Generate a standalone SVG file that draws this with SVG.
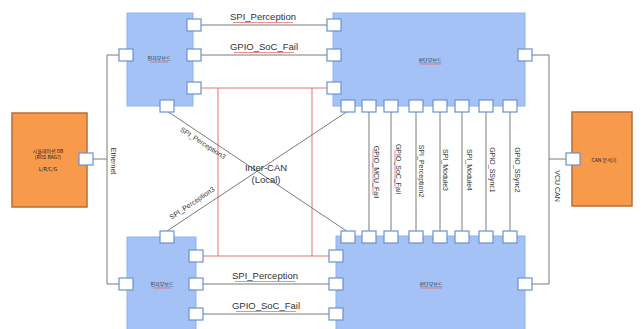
<svg xmlns="http://www.w3.org/2000/svg" width="641" height="329" viewBox="0 0 641 329">
<style>
.board{fill:#a4c2f6;stroke:#8fb2ec;stroke-width:1}
.ext{fill:#f79a4c;stroke:#b86d33;stroke-width:1.5}
.port{fill:#ffffff;stroke:#6a92cf;stroke-width:1.2}
.wire{fill:none;stroke:#7a7a7a;stroke-width:1}
.red{fill:none;stroke:#e57373;stroke-width:1}
.sq{fill:none;stroke:#e06060;stroke-width:0.7}
text{font-family:"Liberation Sans","Noto Sans CJK KR",sans-serif;fill:#333333}
.kr{font-family:"Noto Sans CJK KR","Noto Sans",sans-serif;font-size:5px;fill:#222}
.lbl{font-size:9.5px;text-anchor:middle}
.vl{font-size:7px;text-anchor:middle}
</style>
<rect width="641" height="329" fill="#ffffff"/>

<g id="connectors">
  <!-- Ethernet bus -->
  <path class="wire" d="M93 159 H107 M107 55 V284 M107 55 H119 M107 284 H119"/>
  <!-- VCU CAN bus -->
  <path class="wire" d="M532 55 H549 V284 H532 M549 159 H566"/>
  <!-- top links -->
  <path class="wire" d="M200 25 H327 M200 55 H327"/>
  <!-- bottom links -->
  <path class="wire" d="M203 284 H329 M203 314 H329"/>
  <!-- inter-CAN red -->
  <path class="red" d="M200 88 H327 M218 88 V256 M312 88 V256 M203 256 H329"/>
  <!-- diagonals -->
  <path class="wire" d="M167 111 L348 232 M167 231 L348 111"/>
  <!-- vertical links -->
  <path class="wire" d="M369 111 V232 M391 111 V232 M416 111 V232 M440 111 V232 M462 111 V232 M486 111 V232 M510 111 V232"/>

  <text class="lbl" x="263" y="20">SPI_Perception</text>
  <path class="sq" d="M233 22.5 H293"/>
  <text class="lbl" x="264" y="50">GPIO_SoC_Fail</text>
  <path class="sq" d="M234 52.5 H294"/>
  <text class="lbl" x="265" y="279">SPI_Perception</text>
  <path class="sq" d="M235 281.5 H295"/>
  <text class="lbl" x="266" y="309">GPIO_SoC_Fail</text>
  <path class="sq" d="M236 311.5 H296"/>

  <text class="lbl" x="266" y="171">Inter-CAN</text>
  <text class="lbl" x="266" y="183">(Local)</text>

  <g transform="translate(203,143) rotate(33)"><text class="vl" x="0" y="2.5">SPI_Perception3</text></g>
  <g transform="translate(192,203) rotate(-34)"><text class="vl" x="0" y="2.5">SPI_Perception3</text></g>

  <text class="vl" transform="translate(111,161) rotate(90)">Ethernet</text>
  <text class="vl" transform="translate(555,186) rotate(90)">VCU CAN</text>

  <text class="vl" transform="translate(374,172) rotate(90)">GPIO_MCU_Fail</text>
  <path class="sq" d="M373 149 V195"/>
  <text class="vl" transform="translate(396,169) rotate(90)">GPIO_SoC_Fail</text>
  <path class="sq" d="M395 150 V188"/>
  <text class="vl" transform="translate(419,171) rotate(90)">SPI_Perception2</text>
  <text class="vl" transform="translate(443,170) rotate(90)">SPI_Module3</text>
  <text class="vl" transform="translate(467,170) rotate(90)">SPI_Module4</text>
  <text class="vl" transform="translate(490,170) rotate(90)">GPIO_SSync1</text>
  <text class="vl" transform="translate(515,170) rotate(90)">GPIO_SSync2</text>
</g>

<g id="sim-db">
  <rect class="ext" x="12" y="113" width="75" height="94"/>
  <text class="kr" x="48" y="153" text-anchor="middle">시뮬레이션 DB</text>
  <text class="kr" x="48" y="159" text-anchor="middle">(ROS BAG?)</text>
  <text class="kr" x="48" y="171" text-anchor="middle">L/R/C/G</text>
  <rect class="port" x="79" y="153" width="14" height="12"/>
</g>

<g id="can-analyzer">
  <rect class="ext" x="572" y="112" width="60" height="94"/>
  <text class="kr" x="604" y="162" text-anchor="middle">CAN 분석기</text>
  <rect class="port" x="566" y="153" width="14" height="12"/>
</g>

<g id="perception-top">
  <rect class="board" x="127" y="13" width="66" height="93"/>
  <text class="kr" x="159" y="60" text-anchor="middle">인지부보드</text>
  <path class="sq" d="M150 62 H168"/>
  <rect class="port" x="119" y="49" width="14" height="12"/>
  <rect class="port" x="187" y="19" width="14" height="12"/>
  <rect class="port" x="187" y="49" width="14" height="12"/>
  <rect class="port" x="187" y="82" width="14" height="12"/>
  <rect class="port" x="160" y="100" width="14" height="12"/>
</g>

<g id="decision-top">
  <rect class="board" x="333" y="13" width="192" height="93"/>
  <text class="kr" x="430" y="62" text-anchor="middle">판단부보드</text>
  <path class="sq" d="M420 64 H441"/>
  <rect class="port" x="327" y="19" width="14" height="12"/>
  <rect class="port" x="327" y="49" width="14" height="12"/>
  <rect class="port" x="327" y="82" width="14" height="12"/>
  <rect class="port" x="518" y="49" width="14" height="12"/>
  <rect class="port" x="341" y="100" width="14" height="12"/>
  <rect class="port" x="362" y="100" width="14" height="12"/>
  <rect class="port" x="384" y="100" width="14" height="12"/>
  <rect class="port" x="409" y="100" width="14" height="12"/>
  <rect class="port" x="433" y="100" width="14" height="12"/>
  <rect class="port" x="455" y="100" width="14" height="12"/>
  <rect class="port" x="479" y="100" width="14" height="12"/>
  <rect class="port" x="503" y="100" width="14" height="12"/>
</g>

<g id="perception-bottom">
  <rect class="board" x="127" y="237" width="69" height="100"/>
  <text class="kr" x="162" y="286" text-anchor="middle">인지부보드</text>
  <path class="sq" d="M153 288 H171"/>
  <rect class="port" x="119" y="278" width="14" height="12"/>
  <rect class="port" x="160" y="231" width="14" height="12"/>
  <rect class="port" x="189" y="250" width="14" height="12"/>
  <rect class="port" x="189" y="278" width="14" height="12"/>
  <rect class="port" x="189" y="308" width="14" height="12"/>
</g>

<g id="decision-bottom">
  <rect class="board" x="336" y="236" width="189" height="100"/>
  <text class="kr" x="431" y="286" text-anchor="middle">판단부보드</text>
  <path class="sq" d="M421 288 H442"/>
  <rect class="port" x="329" y="250" width="14" height="12"/>
  <rect class="port" x="329" y="278" width="14" height="12"/>
  <rect class="port" x="329" y="308" width="14" height="12"/>
  <rect class="port" x="518" y="278" width="14" height="12"/>
  <rect class="port" x="341" y="231" width="14" height="12"/>
  <rect class="port" x="362" y="231" width="14" height="12"/>
  <rect class="port" x="384" y="231" width="14" height="12"/>
  <rect class="port" x="409" y="231" width="14" height="12"/>
  <rect class="port" x="433" y="231" width="14" height="12"/>
  <rect class="port" x="455" y="231" width="14" height="12"/>
  <rect class="port" x="479" y="231" width="14" height="12"/>
  <rect class="port" x="503" y="231" width="14" height="12"/>
</g>
</svg>
